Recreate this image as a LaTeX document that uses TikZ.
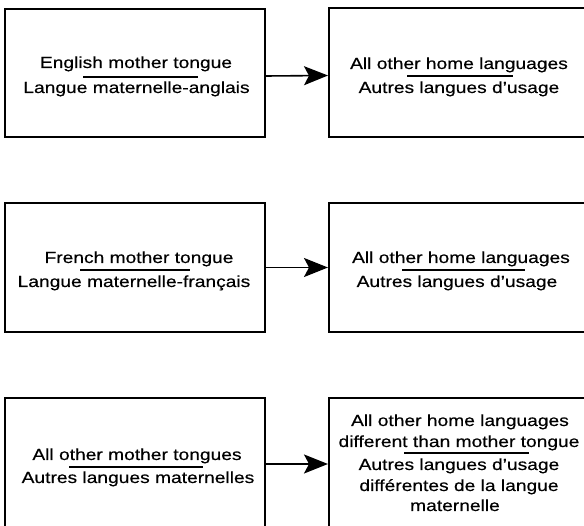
\documentclass[tikz,border=0pt]{standalone}
\usepackage{fontspec}
\setmainfont{Liberation Sans}[FakeStretch=1.2,FakeBold=0.4]
\usetikzlibrary{arrows.meta}
\tikzset{
  boxnode/.style={draw=black, line width=2pt, rectangle, inner sep=0pt, minimum width=260pt},
  lbl/.style={anchor=base, inner sep=0pt, font=\fontsize{16}{19}\selectfont},
  sepline/.style={line width=1.2pt},
  conn/.style={line width=1.6pt, arrows={-Stealth[length=24pt, width=19pt, inset=5pt]}}
}
\begin{document}
\begin{tikzpicture}[x=1pt,y=-1pt]
\useasboundingbox (0,0) rectangle (584,526);
% row 1
\node[boxnode, minimum height=128pt] (l1) at (135,73) {};
\node[boxnode, minimum height=129pt] (r1) at (459,72.5) {};
\node[lbl] (l1a) at (136,68) {English mother tongue};
\node[lbl] (l1b) at (136.5,93) {Langue maternelle-anglais};
\coordinate (l1s) at (83,77); \coordinate (l1e) at (198,77);
\draw[sepline] (l1s) -- (l1e);
\node[lbl] (r1a) at (459,69) {All other home languages};
\node[lbl] (r1b) at (459,93) {Autres langues d'usage};
\coordinate (r1s) at (407,76); \coordinate (r1e) at (513,76);
\draw[sepline] (r1s) -- (r1e);
\draw[conn] ([yshift=-3pt]l1.east) -- ([yshift=-3pt]r1.west);
% row 2
\node[boxnode, minimum height=129pt] (l2) at (135,267.5) {};
\node[boxnode, minimum height=129pt] (r2) at (459,267.5) {};
\node[lbl] (l2a) at (139,263) {French mother tongue};
\node[lbl] (l2b) at (134,287) {Langue maternelle-français};
\coordinate (l2s) at (80,270); \coordinate (l2e) at (190,270);
\draw[sepline] (l2s) -- (l2e);
\node[lbl] (r2a) at (461,263) {All other home languages};
\node[lbl] (r2b) at (457,287) {Autres langues d'usage};
\coordinate (r2s) at (402,270); \coordinate (r2e) at (525,270);
\draw[sepline] (r2s) -- (r2e);
\draw[conn] (l2.east) -- (r2.west);
% row 3
\node[boxnode, minimum height=132pt] (l3) at (135,464) {};
\node[boxnode, minimum height=132pt] (r3) at (459,464) {};
\node[lbl] (l3a) at (137,460) {All other mother tongues};
\node[lbl] (l3b) at (138,483) {Autres langues maternelles};
\coordinate (l3s) at (69,467); \coordinate (l3e) at (203,467);
\draw[sepline] (l3s) -- (l3e);
\node[lbl] (r3a) at (460,426) {All other home languages};
\node[lbl] (r3b) at (459,447) {different than mother tongue};
\coordinate (r3s) at (404,453); \coordinate (r3e) at (529,453);
\draw[sepline] (r3s) -- (r3e);
\node[lbl] (r3c) at (459,470) {Autres langues d'usage};
\node[lbl] (r3d) at (459,491) {différentes de la langue};
\node[lbl] (r3e2) at (455,511) {maternelle};
\draw[conn] (l3.east) -- (r3.west);
\end{tikzpicture}
\end{document}
